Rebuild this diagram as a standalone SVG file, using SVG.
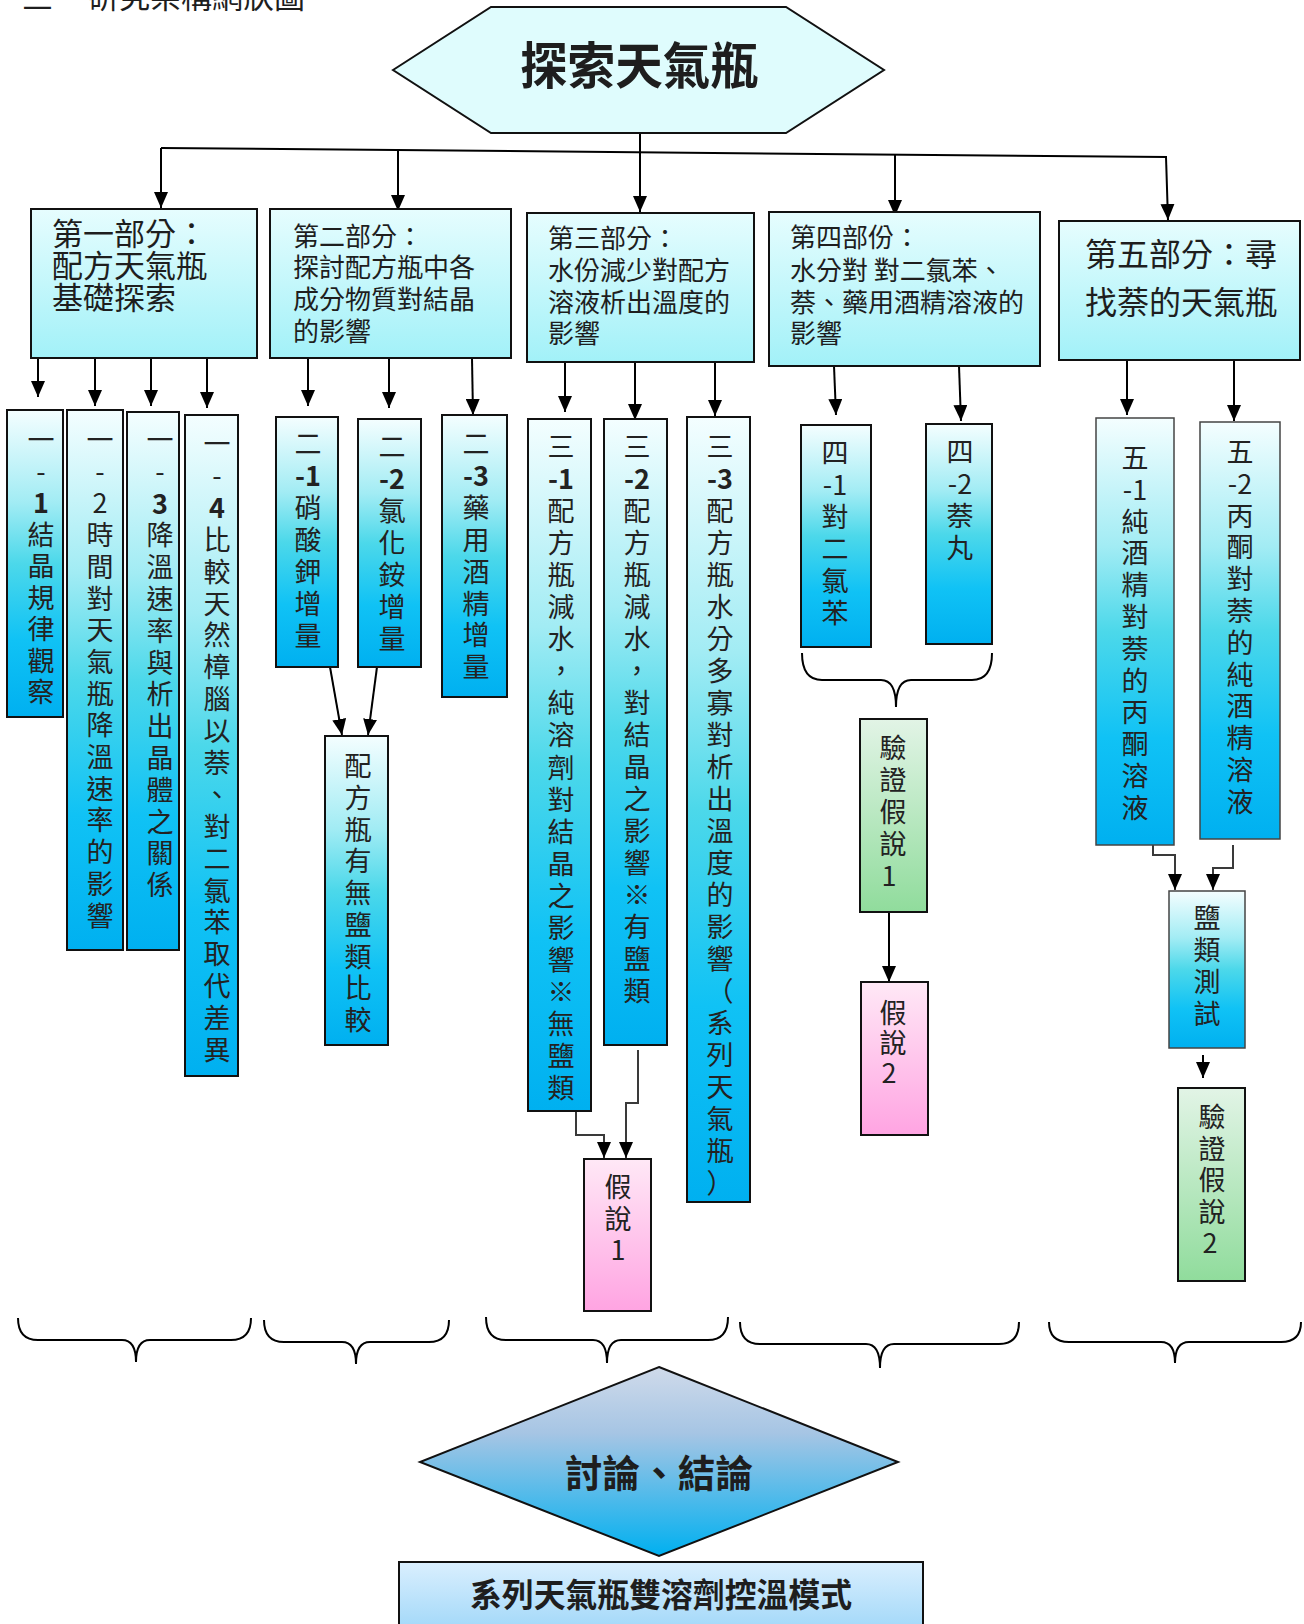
<svg xmlns="http://www.w3.org/2000/svg" width="1304" height="1624" viewBox="0 0 1304 1624">
<style>
  .t{font-family:'Noto Sans CJK TC','Noto Sans CJK SC',sans-serif;fill:#1e1e1e}
  .h{font-size:26px}
  .v{font-size:27px;text-anchor:middle;fill:#222}
  .box{stroke:#111;stroke-width:2}
  .thin{stroke:#444;stroke-width:1.5}
  .ln{fill:none;stroke:#000;stroke-width:2}
  .gl{fill:none;stroke:#3a3a3a;stroke-width:2}
  .br{fill:none;stroke:#000;stroke-width:2}
</style>
<defs>
  <linearGradient id="gPart" x1="0" y1="0" x2="0" y2="1">
    <stop offset="0" stop-color="#e6fdfe"/><stop offset="1" stop-color="#a2f1f8"/>
  </linearGradient>
  <linearGradient id="gV" x1="0" y1="0" x2="0" y2="1">
    <stop offset="0" stop-color="#f4feff"/><stop offset="0.3" stop-color="#a2ecf4"/>
    <stop offset="0.5" stop-color="#4cd8ea"/><stop offset="0.75" stop-color="#10c2f5"/>
    <stop offset="1" stop-color="#00b0f0"/>
  </linearGradient>
  <linearGradient id="gGreen" x1="0" y1="0" x2="0" y2="1">
    <stop offset="0" stop-color="#e2f4e6"/><stop offset="1" stop-color="#90dc9c"/>
  </linearGradient>
  <linearGradient id="gPink" x1="0" y1="0" x2="0" y2="1">
    <stop offset="0" stop-color="#ffe8f6"/><stop offset="1" stop-color="#ffa4e2"/>
  </linearGradient>
  <linearGradient id="gDia" x1="0" y1="0" x2="0" y2="1">
    <stop offset="0" stop-color="#cfdaea"/><stop offset="0.35" stop-color="#a6c5e4"/>
    <stop offset="1" stop-color="#00b0f0"/>
  </linearGradient>
  <linearGradient id="gBot" x1="0" y1="0" x2="0" y2="1">
    <stop offset="0" stop-color="#daeffe"/><stop offset="1" stop-color="#98d4f8"/>
  </linearGradient>
  <marker id="arr" viewBox="0 0 16 14" refX="16" refY="7" markerWidth="16" markerHeight="14" markerUnits="userSpaceOnUse" orient="auto">
    <path d="M0,0 L16,7 L0,14 z" fill="#000"/>
  </marker>
</defs>

<text class="t" x="22" y="8" font-size="31">三<tspan x="88">研究架構網狀圖</tspan></text>

<g id="connectors">
  <path class="ln" d="M161,148 L1167,157"/>
  <path class="ln" d="M640,133 V212" marker-end="url(#arr)"/>
  <path class="ln" d="M161,148 V208" marker-end="url(#arr)"/>
  <path class="ln" d="M398,150 V211" marker-end="url(#arr)"/>
  <path class="ln" d="M895,155 V216" marker-end="url(#arr)"/>
  <path class="ln" d="M1166,157 L1168,220" marker-end="url(#arr)"/>
  <path class="ln" d="M38,358 V397" marker-end="url(#arr)"/>
  <path class="ln" d="M95,358 V406" marker-end="url(#arr)"/>
  <path class="ln" d="M151,358 V406" marker-end="url(#arr)"/>
  <path class="ln" d="M207,358 V408" marker-end="url(#arr)"/>
  <path class="ln" d="M308,358 V406" marker-end="url(#arr)"/>
  <path class="ln" d="M389,358 V408" marker-end="url(#arr)"/>
  <path class="ln" d="M472,358 L473,415" marker-end="url(#arr)"/>
  <path class="ln" d="M330,667 L342,735" marker-end="url(#arr)"/>
  <path class="ln" d="M377,667 L368,735" marker-end="url(#arr)"/>
  <path class="ln" d="M565,362 V412" marker-end="url(#arr)"/>
  <path class="ln" d="M635,362 V420" marker-end="url(#arr)"/>
  <path class="ln" d="M715,362 V416" marker-end="url(#arr)"/>
  <path class="gl" d="M576,1111 V1135 H604 V1158" marker-end="url(#arr)"/>
  <path class="gl" d="M638,1050 V1103 H626 V1158" marker-end="url(#arr)"/>
  <path class="ln" d="M834,366 L836,415" marker-end="url(#arr)"/>
  <path class="ln" d="M959,366 L961,421" marker-end="url(#arr)"/>
  <path class="ln" d="M889,912 V982" marker-end="url(#arr)"/>
  <path class="ln" d="M1127,360 V415" marker-end="url(#arr)"/>
  <path class="ln" d="M1234,360 V421" marker-end="url(#arr)"/>
  <path class="gl" d="M1153,845 V855 H1175 V890" marker-end="url(#arr)"/>
  <path class="gl" d="M1233,845 V868 H1213 V890" marker-end="url(#arr)"/>
  <path class="ln" d="M1203,1055 V1078" marker-end="url(#arr)"/>
</g>

<g id="braces">
  <path class="br" d="M802,653 Q802,680 822,680 L881,680 Q896,680 896,707 Q896,680 911,680 L972,680 Q992,680 992,653"/>
  <path class="br" d="M18,1318 Q18,1340 38,1340 L122,1340 Q136,1340 136,1362 Q136,1340 150,1340 L231,1340 Q251,1340 251,1318"/>
  <path class="br" d="M264,1320 Q264,1342 284,1342 L342,1342 Q356,1342 356,1364 Q356,1342 370,1342 L429,1342 Q449,1342 449,1320"/>
  <path class="br" d="M486,1317 Q486,1340 506,1340 L593,1340 Q607,1340 607,1363 Q607,1340 621,1340 L708,1340 Q728,1340 728,1317"/>
  <path class="br" d="M740,1322 Q740,1344 760,1344 L866,1344 Q880,1344 880,1368 Q880,1344 894,1344 L999,1344 Q1019,1344 1019,1322"/>
  <path class="br" d="M1049,1322 Q1049,1342 1069,1342 L1161,1342 Q1175,1342 1175,1363 Q1175,1342 1189,1342 L1281,1342 Q1301,1342 1301,1322"/>
</g>

<g id="n-title">
  <polygon points="393,70 491,7 786,7 884,70 786,133 491,133" fill="#dffcfd" stroke="#111" stroke-width="2"/>
  <text class="t" x="639" y="84" font-size="50" font-weight="700" text-anchor="middle" textLength="238" lengthAdjust="spacingAndGlyphs" fill="#000">探索天氣瓶</text>
</g>

<g id="n-part1">
  <rect class="box" x="31" y="209" width="226" height="149" fill="url(#gPart)"/>
  <text class="t" font-size="31"><tspan x="52" y="245">第一部分：</tspan><tspan x="52" y="277">配方天氣瓶</tspan><tspan x="52" y="309">基礎探索</tspan></text>
</g>
<g id="n-part2">
  <rect class="box" x="270" y="209" width="241" height="149" fill="url(#gPart)"/>
  <text class="t h"><tspan x="293" y="246">第二部分：</tspan><tspan x="293" y="277">探討配方瓶中各</tspan><tspan x="293" y="309">成分物質對結晶</tspan><tspan x="293" y="341">的影響</tspan></text>
</g>
<g id="n-part3">
  <rect class="box" x="527" y="213" width="227" height="149" fill="url(#gPart)"/>
  <text class="t h"><tspan x="548" y="248">第三部分：</tspan><tspan x="548" y="280">水份減少對配方</tspan><tspan x="548" y="312">溶液析出溫度的</tspan><tspan x="548" y="343">影響</tspan></text>
</g>
<g id="n-part4">
  <rect class="box" x="769" y="212" width="271" height="154" fill="url(#gPart)"/>
  <text class="t h"><tspan x="790" y="247">第四部份：</tspan><tspan x="790" y="280">水分對 對二氯苯、</tspan><tspan x="790" y="312">萘、藥用酒精溶液的</tspan><tspan x="790" y="343">影響</tspan></text>
</g>
<g id="n-part5">
  <rect class="box" x="1059" y="221" width="241" height="139" fill="url(#gPart)"/>
  <text class="t" font-size="32"><tspan x="1085" y="266">第五部分：尋</tspan><tspan x="1085" y="314">找萘的天氣瓶</tspan></text>
</g>

<g id="n-1-1">
  <rect class="box" x="7" y="410" width="56" height="307" fill="url(#gV)"/>
  <text class="t v" x="41" y="450"><tspan x="41">一</tspan><tspan x="41" dy="31.5">-</tspan><tspan x="41" dy="31.5" font-weight="700">1</tspan><tspan x="41" dy="31.5">結</tspan><tspan x="41" dy="31.5">晶</tspan><tspan x="41" dy="31.5">規</tspan><tspan x="41" dy="31.5">律</tspan><tspan x="41" dy="31.5">觀</tspan><tspan x="41" dy="31.5">察</tspan></text>
</g>
<g id="n-1-2">
  <rect class="box" x="67" y="410" width="56" height="540" fill="url(#gV)"/>
  <text class="t v" x="100" y="450"><tspan x="100">一</tspan><tspan x="100" dy="31.7">-</tspan><tspan x="100" dy="31.7">2</tspan><tspan x="100" dy="31.7">時</tspan><tspan x="100" dy="31.7">間</tspan><tspan x="100" dy="31.7">對</tspan><tspan x="100" dy="31.7">天</tspan><tspan x="100" dy="31.7">氣</tspan><tspan x="100" dy="31.7">瓶</tspan><tspan x="100" dy="31.7">降</tspan><tspan x="100" dy="31.7">溫</tspan><tspan x="100" dy="31.7">速</tspan><tspan x="100" dy="31.7">率</tspan><tspan x="100" dy="31.7">的</tspan><tspan x="100" dy="31.7">影</tspan><tspan x="100" dy="31.7">響</tspan></text>
</g>
<g id="n-1-3">
  <rect class="box" x="127" y="412" width="52" height="538" fill="url(#gV)"/>
  <text class="t v" x="160" y="450"><tspan x="160">一</tspan><tspan x="160" dy="31.8">-</tspan><tspan x="160" dy="31.8" font-weight="700">3</tspan><tspan x="160" dy="31.8">降</tspan><tspan x="160" dy="31.8">溫</tspan><tspan x="160" dy="31.8">速</tspan><tspan x="160" dy="31.8">率</tspan><tspan x="160" dy="31.8">與</tspan><tspan x="160" dy="31.8">析</tspan><tspan x="160" dy="31.8">出</tspan><tspan x="160" dy="31.8">晶</tspan><tspan x="160" dy="31.8">體</tspan><tspan x="160" dy="31.8">之</tspan><tspan x="160" dy="31.8">關</tspan><tspan x="160" dy="31.8">係</tspan></text>
</g>
<g id="n-1-4">
  <rect class="box" x="185" y="415" width="53" height="661" fill="url(#gV)"/>
  <text class="t v" x="217" y="454"><tspan x="217">一</tspan><tspan x="217" dy="31.9">-</tspan><tspan x="217" dy="31.9" font-weight="700">4</tspan><tspan x="217" dy="31.9">比</tspan><tspan x="217" dy="31.9">較</tspan><tspan x="217" dy="31.9">天</tspan><tspan x="217" dy="31.9">然</tspan><tspan x="217" dy="31.9">樟</tspan><tspan x="217" dy="31.9">腦</tspan><tspan x="217" dy="31.9">以</tspan><tspan x="217" dy="31.9">萘</tspan><tspan x="217" dy="31.9">、</tspan><tspan x="217" dy="31.9">對</tspan><tspan x="217" dy="31.9">二</tspan><tspan x="217" dy="31.9">氯</tspan><tspan x="217" dy="31.9">苯</tspan><tspan x="217" dy="31.9">取</tspan><tspan x="217" dy="31.9">代</tspan><tspan x="217" dy="31.9">差</tspan><tspan x="217" dy="31.9">異</tspan></text>
</g>

<g id="n-2-1">
  <rect class="box" x="276" y="417" width="62" height="250" fill="url(#gV)"/>
  <text class="t v" x="308" y="454"><tspan x="308">二</tspan><tspan x="308" dy="32" font-weight="700">-1</tspan><tspan x="308" dy="32">硝</tspan><tspan x="308" dy="32">酸</tspan><tspan x="308" dy="32">鉀</tspan><tspan x="308" dy="32">增</tspan><tspan x="308" dy="32">量</tspan></text>
</g>
<g id="n-2-2">
  <rect class="box" x="358" y="419" width="63" height="248" fill="url(#gV)"/>
  <text class="t v" x="392" y="457"><tspan x="392">二</tspan><tspan x="392" dy="32" font-weight="700">-2</tspan><tspan x="392" dy="32">氯</tspan><tspan x="392" dy="32">化</tspan><tspan x="392" dy="32">銨</tspan><tspan x="392" dy="32">增</tspan><tspan x="392" dy="32">量</tspan></text>
</g>
<g id="n-2-3">
  <rect class="box" x="442" y="415" width="65" height="282" fill="url(#gV)"/>
  <text class="t v" x="476" y="454"><tspan x="476">二</tspan><tspan x="476" dy="31.9" font-weight="700">-3</tspan><tspan x="476" dy="31.9">藥</tspan><tspan x="476" dy="31.9">用</tspan><tspan x="476" dy="31.9">酒</tspan><tspan x="476" dy="31.9">精</tspan><tspan x="476" dy="31.9">增</tspan><tspan x="476" dy="31.9">量</tspan></text>
</g>
<g id="n-2-cmp">
  <rect class="box" x="325" y="736" width="63" height="309" fill="url(#gV)"/>
  <text class="t v" x="358" y="776"><tspan x="358">配</tspan><tspan x="358" dy="31.75">方</tspan><tspan x="358" dy="31.75">瓶</tspan><tspan x="358" dy="31.75">有</tspan><tspan x="358" dy="31.75">無</tspan><tspan x="358" dy="31.75">鹽</tspan><tspan x="358" dy="31.75">類</tspan><tspan x="358" dy="31.75">比</tspan><tspan x="358" dy="31.75">較</tspan></text>
</g>

<g id="n-3-1">
  <rect class="box" x="528" y="419" width="63" height="692" fill="url(#gV)"/>
  <text class="t v" x="561" y="457"><tspan x="561">三</tspan><tspan x="561" dy="32.05" font-weight="700">-1</tspan><tspan x="561" dy="32.05">配</tspan><tspan x="561" dy="32.05">方</tspan><tspan x="561" dy="32.05">瓶</tspan><tspan x="561" dy="32.05">減</tspan><tspan x="561" dy="32.05">水</tspan><tspan x="561" dy="32.05">，</tspan><tspan x="561" dy="32.05">純</tspan><tspan x="561" dy="32.05">溶</tspan><tspan x="561" dy="32.05">劑</tspan><tspan x="561" dy="32.05">對</tspan><tspan x="561" dy="32.05">結</tspan><tspan x="561" dy="32.05">晶</tspan><tspan x="561" dy="32.05">之</tspan><tspan x="561" dy="32.05">影</tspan><tspan x="561" dy="32.05">響</tspan><tspan x="561" dy="32.05">※</tspan><tspan x="561" dy="32.05">無</tspan><tspan x="561" dy="32.05">鹽</tspan><tspan x="561" dy="32.05">類</tspan></text>
</g>
<g id="n-3-2">
  <rect class="box" x="604" y="419" width="63" height="626" fill="url(#gV)"/>
  <text class="t v" x="637" y="457"><tspan x="637">三</tspan><tspan x="637" dy="32" font-weight="700">-2</tspan><tspan x="637" dy="32">配</tspan><tspan x="637" dy="32">方</tspan><tspan x="637" dy="32">瓶</tspan><tspan x="637" dy="32">減</tspan><tspan x="637" dy="32">水</tspan><tspan x="637" dy="32">，</tspan><tspan x="637" dy="32">對</tspan><tspan x="637" dy="32">結</tspan><tspan x="637" dy="32">晶</tspan><tspan x="637" dy="32">之</tspan><tspan x="637" dy="32">影</tspan><tspan x="637" dy="32">響</tspan><tspan x="637" dy="32">※</tspan><tspan x="637" dy="32">有</tspan><tspan x="637" dy="32">鹽</tspan><tspan x="637" dy="32">類</tspan></text>
</g>
<g id="n-3-3">
  <rect class="box" x="687" y="417" width="63" height="785" fill="url(#gV)"/>
  <text class="t v" x="720" y="457"><tspan x="720">三</tspan><tspan x="720" dy="32" font-weight="700">-3</tspan><tspan x="720" dy="32">配</tspan><tspan x="720" dy="32">方</tspan><tspan x="720" dy="32">瓶</tspan><tspan x="720" dy="32">水</tspan><tspan x="720" dy="32">分</tspan><tspan x="720" dy="32">多</tspan><tspan x="720" dy="32">寡</tspan><tspan x="720" dy="32">對</tspan><tspan x="720" dy="32">析</tspan><tspan x="720" dy="32">出</tspan><tspan x="720" dy="32">溫</tspan><tspan x="720" dy="32">度</tspan><tspan x="720" dy="32">的</tspan><tspan x="720" dy="32">影</tspan><tspan x="720" dy="32">響</tspan><tspan x="720" dy="32">（</tspan><tspan x="720" dy="32">系</tspan><tspan x="720" dy="32">列</tspan><tspan x="720" dy="32">天</tspan><tspan x="720" dy="32">氣</tspan><tspan x="720" dy="32">瓶</tspan><tspan x="720" dy="32">）</tspan></text>
</g>
<g id="n-3-hyp1">
  <rect class="box" x="584" y="1159" width="67" height="152" fill="url(#gPink)"/>
  <text class="t v" x="618" y="1197" fill="#444"><tspan x="618">假</tspan><tspan x="618" dy="31.5">說</tspan><tspan x="618" dy="31.5">1</tspan></text>
</g>

<g id="n-4-1">
  <rect class="box" x="801" y="425" width="70" height="222" fill="url(#gV)"/>
  <text class="t v" x="835" y="463"><tspan x="835">四</tspan><tspan x="835" dy="32">-1</tspan><tspan x="835" dy="32">對</tspan><tspan x="835" dy="32">二</tspan><tspan x="835" dy="32">氯</tspan><tspan x="835" dy="32">苯</tspan></text>
</g>
<g id="n-4-2">
  <rect class="box" x="926" y="424" width="66" height="220" fill="url(#gV)"/>
  <text class="t v" x="960" y="462"><tspan x="960">四</tspan><tspan x="960" dy="32">-2</tspan><tspan x="960" dy="32">萘</tspan><tspan x="960" dy="32">丸</tspan></text>
</g>
<g id="n-4-ver1">
  <rect class="box" x="860" y="719" width="67" height="193" fill="url(#gGreen)"/>
  <text class="t v" x="893" y="758" fill="#333"><tspan x="893">驗</tspan><tspan x="893" dy="32">證</tspan><tspan x="893" dy="32">假</tspan><tspan x="893" dy="32">說</tspan><tspan x="889" dy="32">1</tspan></text>
</g>
<g id="n-4-hyp2">
  <rect class="box" x="861" y="982" width="67" height="153" fill="url(#gPink)"/>
  <text class="t v" x="893" y="1023" fill="#333"><tspan x="893">假</tspan><tspan x="893" dy="30">說</tspan><tspan x="889" dy="30">2</tspan></text>
</g>

<g id="n-5-1">
  <rect class="thin" x="1096" y="418" width="78" height="427" fill="url(#gV)"/>
  <text class="t v" x="1135" y="468"><tspan x="1135">五</tspan><tspan x="1135" dy="31.8">-1</tspan><tspan x="1135" dy="31.8">純</tspan><tspan x="1135" dy="31.8">酒</tspan><tspan x="1135" dy="31.8">精</tspan><tspan x="1135" dy="31.8">對</tspan><tspan x="1135" dy="31.8">萘</tspan><tspan x="1135" dy="31.8">的</tspan><tspan x="1135" dy="31.8">丙</tspan><tspan x="1135" dy="31.8">酮</tspan><tspan x="1135" dy="31.8">溶</tspan><tspan x="1135" dy="31.8">液</tspan></text>
</g>
<g id="n-5-2">
  <rect class="thin" x="1200" y="422" width="80" height="417" fill="url(#gV)"/>
  <text class="t v" x="1240" y="462"><tspan x="1240">五</tspan><tspan x="1240" dy="31.8">-2</tspan><tspan x="1240" dy="31.8">丙</tspan><tspan x="1240" dy="31.8">酮</tspan><tspan x="1240" dy="31.8">對</tspan><tspan x="1240" dy="31.8">萘</tspan><tspan x="1240" dy="31.8">的</tspan><tspan x="1240" dy="31.8">純</tspan><tspan x="1240" dy="31.8">酒</tspan><tspan x="1240" dy="31.8">精</tspan><tspan x="1240" dy="31.8">溶</tspan><tspan x="1240" dy="31.8">液</tspan></text>
</g>
<g id="n-5-salt">
  <rect class="thin" x="1169" y="891" width="76" height="157" fill="url(#gV)"/>
  <text class="t v" x="1207" y="928"><tspan x="1207">鹽</tspan><tspan x="1207" dy="32">類</tspan><tspan x="1207" dy="32">測</tspan><tspan x="1207" dy="32">試</tspan></text>
</g>
<g id="n-5-ver2">
  <rect class="box" x="1178" y="1088" width="67" height="193" fill="url(#gGreen)"/>
  <text class="t v" x="1212" y="1127" fill="#333"><tspan x="1212">驗</tspan><tspan x="1212" dy="31.5">證</tspan><tspan x="1212" dy="31.5">假</tspan><tspan x="1212" dy="31.5">說</tspan><tspan x="1210" dy="31.5">2</tspan></text>
</g>

<g id="n-discuss">
  <polygon points="659,1367 898,1462 659,1556 420,1462" fill="url(#gDia)" stroke="#111" stroke-width="2"/>
  <text class="t" x="659" y="1487" font-size="38" font-weight="700" text-anchor="middle" textLength="188" lengthAdjust="spacingAndGlyphs" fill="#fff">討論、結論</text>
</g>
<g id="n-model">
  <rect x="399" y="1562" width="524" height="80" fill="url(#gBot)" stroke="#111" stroke-width="2"/>
  <text class="t" x="661" y="1607" font-size="33" font-weight="700" text-anchor="middle" textLength="382" lengthAdjust="spacingAndGlyphs" fill="#000">系列天氣瓶雙溶劑控溫模式</text>
</g>
</svg>
